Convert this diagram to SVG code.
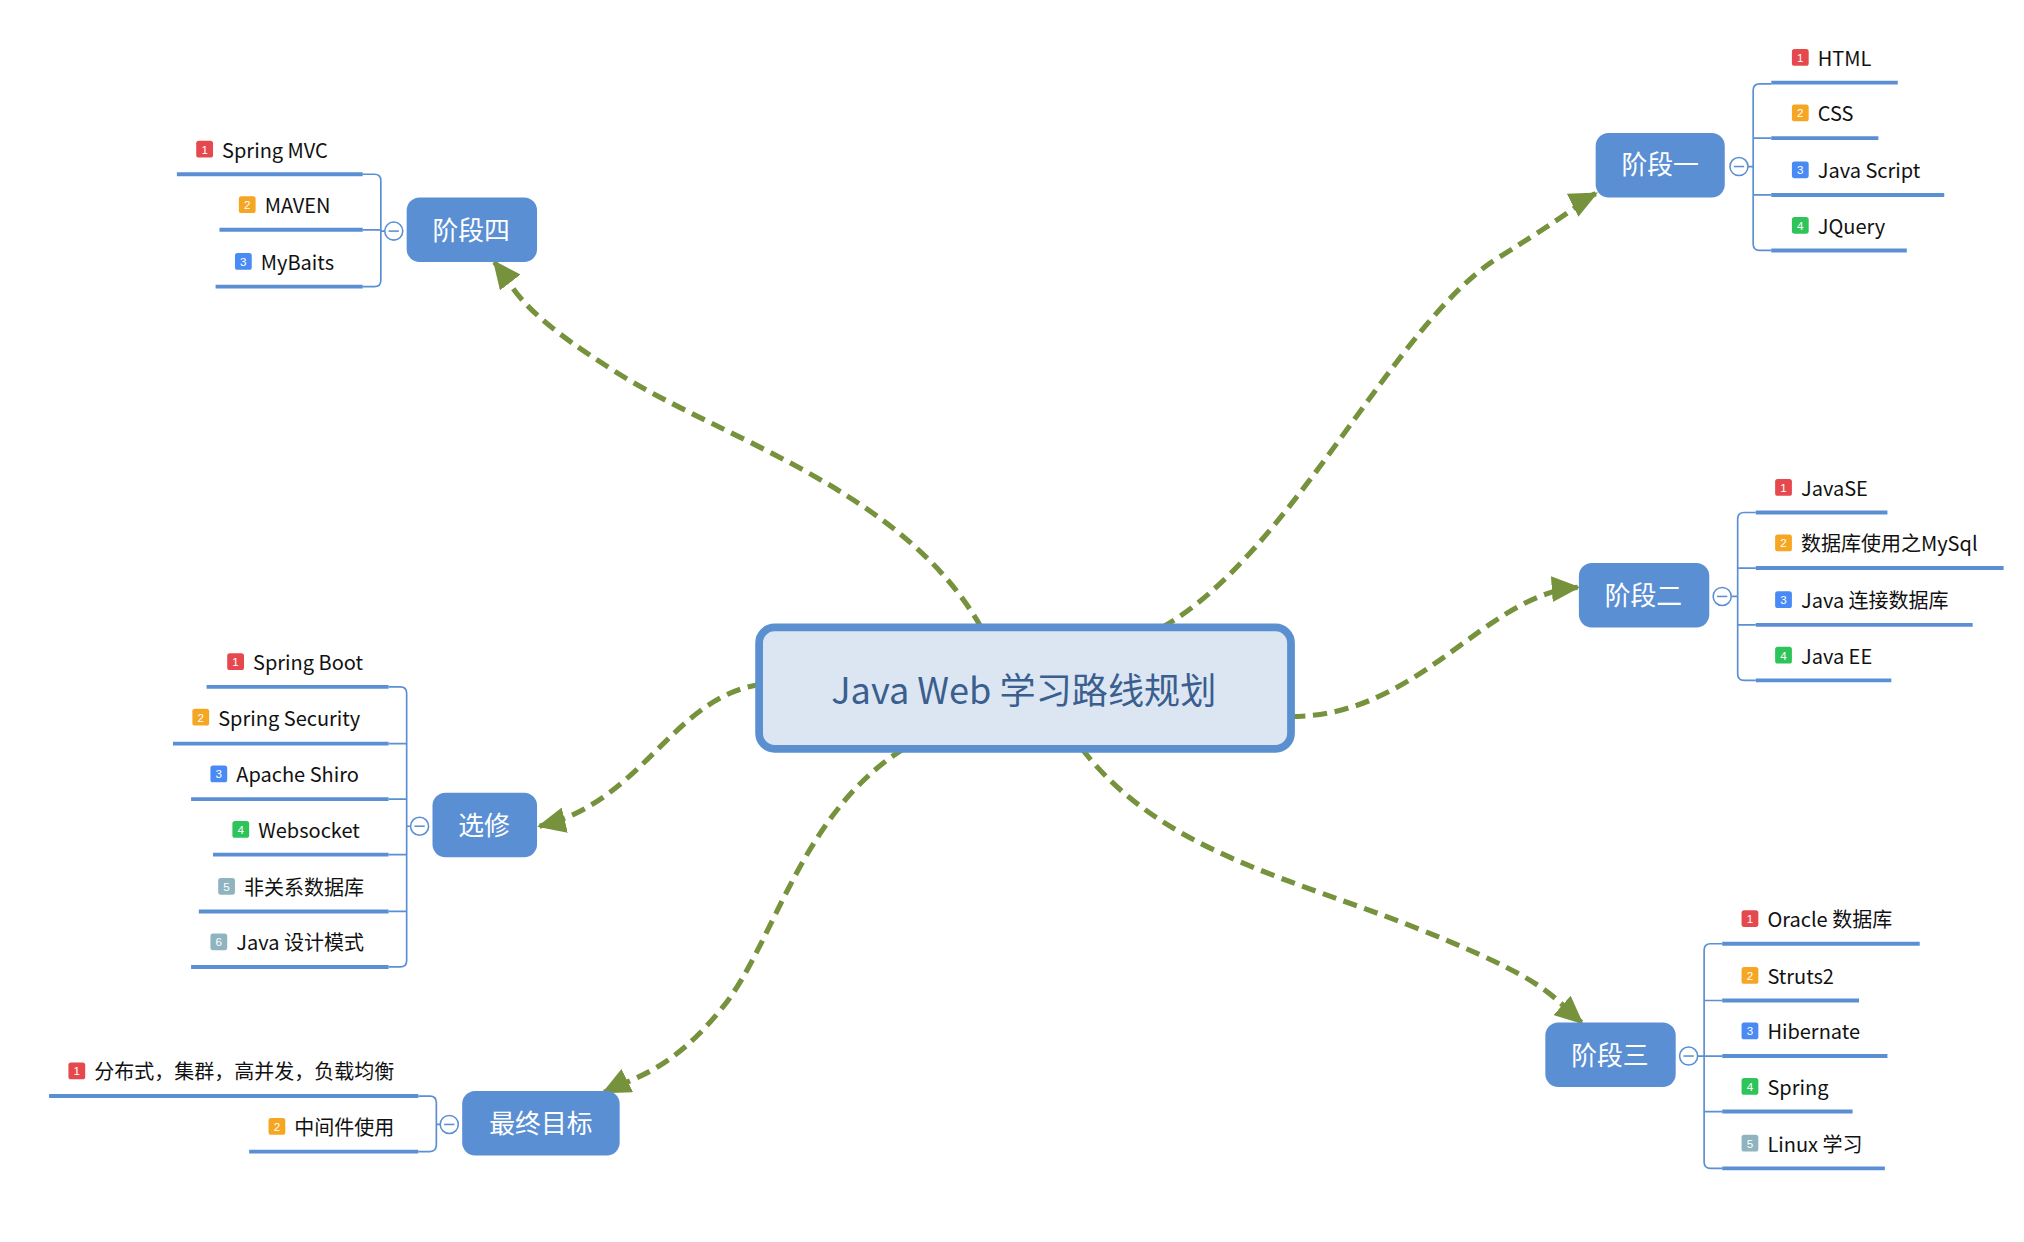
<svg xmlns="http://www.w3.org/2000/svg" width="2024" height="1242" viewBox="0 0 2024 1242">
<style>
text{font-family:"Noto Sans CJK SC","Liberation Sans",sans-serif}
.nr{fill:#5b8fd4}
.nt{fill:#fff;font-size:20px;text-anchor:middle}
.col{fill:#fff;stroke:#5b8fd4;stroke-width:1.2}
.colm{stroke:#5b8fd4;stroke-width:1.2}
.br{fill:none;stroke:#5b8fd4;stroke-width:1.3}
.ul{stroke:#5b8fd4;stroke-width:3}
.it{font-size:15.5px;fill:#111}
.bn{font-size:9px;fill:#fff;text-anchor:middle;font-family:"Liberation Sans",sans-serif}
.c{fill:none;stroke:#76923c;stroke-width:4;stroke-dasharray:11,6}
</style>
<defs>
<marker id="ah" markerWidth="24" markerHeight="20" refX="20" refY="10" orient="auto" markerUnits="userSpaceOnUse"><path d="M0,0 L22,10 L0,20 Z" fill="#76923c"/></marker>
</defs>
<rect width="2024" height="1242" fill="#fff"/>
<g transform="scale(1.291)">
<g id="connectors">
<path class="c" marker-end="url(#ah)" d="M900,486 C1000,430 1080,250 1160,200 S1220,158 1236,150"/>
<path class="c" marker-end="url(#ah)" d="M1000,555 C1100,555 1150,460 1222,455"/>
<path class="c" marker-end="url(#ah)" d="M838,580 C900,660 1000,680 1100,720 S1200,770 1225,792"/>
<path class="c" marker-end="url(#ah)" d="M760,486 C700,380 560,340 480,290 S400,225 383,203"/>
<path class="c" marker-end="url(#ah)" d="M590,530 C520,540 500,620 418,640"/>
<path class="c" marker-end="url(#ah)" d="M700,580 C620,630 600,730 560,780 S490,835 468,846"/>
</g>
<g id="root">
<rect x="588" y="486" width="412" height="94" rx="12" fill="#dce6f2" stroke="#5a8fd0" stroke-width="6"/>
<text x="793" y="545" font-size="28" fill="#3a5f8f" text-anchor="middle">Java Web 学习路线规划</text>
</g>

<g id="stage1">
<rect class="nr" x="1236" y="103" width="100" height="50" rx="10"/><text class="nt" x="1286" y="135">阶段一</text>
<path class="br" d="M1354,129 H1358 M1372,65 H1363 Q1358,65 1358,70 V189 Q1358,194 1363,194 H1372 M1358,107 H1372 M1358,151 H1372"/>
<circle class="col" cx="1347" cy="129" r="7"/><path class="colm" d="M1343,129 H1351"/>
<line class="ul" x1="1372" y1="64" x2="1470" y2="64"/><line class="ul" x1="1372" y1="107" x2="1455" y2="107"/>
<line class="ul" x1="1372" y1="151" x2="1506" y2="151"/><line class="ul" x1="1372" y1="194" x2="1477" y2="194"/>
<rect x="1388" y="38" width="13" height="13" rx="2" fill="#e5484d"/><text class="bn" x="1394.5" y="48">1</text><text class="it" x="1408" y="51">HTML</text>
<rect x="1388" y="81" width="13" height="13" rx="2" fill="#f5a623"/><text class="bn" x="1394.5" y="91">2</text><text class="it" x="1408" y="94">CSS</text>
<rect x="1388" y="125" width="13" height="13" rx="2" fill="#4a8af4"/><text class="bn" x="1394.5" y="135">3</text><text class="it" x="1408" y="138">Java Script</text>
<rect x="1388" y="168" width="13" height="13" rx="2" fill="#2ec45a"/><text class="bn" x="1394.5" y="178">4</text><text class="it" x="1408" y="181">JQuery</text>
</g>

<g id="stage2">
<rect class="nr" x="1223" y="436" width="101" height="50" rx="10"/><text class="nt" x="1273" y="469">阶段二</text>
<path class="br" d="M1341,462 H1346 M1360,397 H1351 Q1346,397 1346,402 V522 Q1346,527 1351,527 H1360 M1346,440 H1360 M1346,484 H1360"/>
<circle class="col" cx="1334" cy="462" r="7"/><path class="colm" d="M1330,462 H1338"/>
<line class="ul" x1="1360" y1="397" x2="1462" y2="397"/><line class="ul" x1="1360" y1="440" x2="1552" y2="440"/>
<line class="ul" x1="1360" y1="484" x2="1528" y2="484"/><line class="ul" x1="1360" y1="527" x2="1465" y2="527"/>
<rect x="1375" y="371" width="13" height="13" rx="2" fill="#e5484d"/><text class="bn" x="1381.5" y="381">1</text><text class="it" x="1395" y="384">JavaSE</text>
<rect x="1375" y="414" width="13" height="13" rx="2" fill="#f5a623"/><text class="bn" x="1381.5" y="424">2</text><text class="it" x="1395" y="427">数据库使用之MySql</text>
<rect x="1375" y="458" width="13" height="13" rx="2" fill="#4a8af4"/><text class="bn" x="1381.5" y="468">3</text><text class="it" x="1395" y="471">Java 连接数据库</text>
<rect x="1375" y="501" width="13" height="13" rx="2" fill="#2ec45a"/><text class="bn" x="1381.5" y="511">4</text><text class="it" x="1395" y="514">Java EE</text>
</g>

<g id="stage3">
<rect class="nr" x="1197" y="792" width="101" height="50" rx="10"/><text class="nt" x="1247" y="825">阶段三</text>
<path class="br" d="M1315,818 H1320 M1334,731 H1325 Q1320,731 1320,736 V900 Q1320,905 1325,905 H1334 M1320,775 H1334 M1320,818 H1334 M1320,861 H1334"/>
<circle class="col" cx="1308" cy="818" r="7"/><path class="colm" d="M1304,818 H1312"/>
<line class="ul" x1="1334" y1="731" x2="1487" y2="731"/><line class="ul" x1="1334" y1="775" x2="1440" y2="775"/>
<line class="ul" x1="1334" y1="818" x2="1462" y2="818"/><line class="ul" x1="1334" y1="861" x2="1435" y2="861"/>
<line class="ul" x1="1334" y1="905" x2="1460" y2="905"/>
<rect x="1349" y="705" width="13" height="13" rx="2" fill="#e5484d"/><text class="bn" x="1355.5" y="715">1</text><text class="it" x="1369" y="718">Oracle 数据库</text>
<rect x="1349" y="749" width="13" height="13" rx="2" fill="#f5a623"/><text class="bn" x="1355.5" y="759">2</text><text class="it" x="1369" y="762">Struts2</text>
<rect x="1349" y="792" width="13" height="13" rx="2" fill="#4a8af4"/><text class="bn" x="1355.5" y="802">3</text><text class="it" x="1369" y="805">Hibernate</text>
<rect x="1349" y="835" width="13" height="13" rx="2" fill="#2ec45a"/><text class="bn" x="1355.5" y="845">4</text><text class="it" x="1369" y="848">Spring</text>
<rect x="1349" y="879" width="13" height="13" rx="2" fill="#8fb4c0"/><text class="bn" x="1355.5" y="889">5</text><text class="it" x="1369" y="892">Linux 学习</text>
</g>

<g id="stage4">
<rect class="nr" x="315" y="153" width="101" height="50" rx="10"/><text class="nt" x="365" y="186">阶段四</text>
<path class="br" d="M298,179 H295 M281,135 H290 Q295,135 295,140 V217 Q295,222 290,222 H281 M295,178 H281"/>
<circle class="col" cx="305" cy="179" r="7"/><path class="colm" d="M301,179 H309"/>
<line class="ul" x1="137" y1="135" x2="281" y2="135"/><line class="ul" x1="170" y1="178" x2="281" y2="178"/>
<line class="ul" x1="167" y1="222" x2="281" y2="222"/>
<rect x="152" y="109" width="13" height="13" rx="2" fill="#e5484d"/><text class="bn" x="158.5" y="119">1</text><text class="it" x="172" y="122">Spring MVC</text>
<rect x="185" y="152" width="13" height="13" rx="2" fill="#f5a623"/><text class="bn" x="191.5" y="162">2</text><text class="it" x="205" y="165">MAVEN</text>
<rect x="182" y="196" width="13" height="13" rx="2" fill="#4a8af4"/><text class="bn" x="188.5" y="206">3</text><text class="it" x="202" y="209">MyBaits</text>
</g>

<g id="elective">
<rect class="nr" x="335" y="614" width="81" height="50" rx="10"/><text class="nt" x="375" y="647">选修</text>
<path class="br" d="M318,640 H315 M301,532 H310 Q315,532 315,537 V744 Q315,749 310,749 H301 M315,576 H301 M315,619 H301 M315,662 H301 M315,706 H301"/>
<circle class="col" cx="325" cy="640" r="7"/><path class="colm" d="M321,640 H329"/>
<line class="ul" x1="160" y1="532" x2="301" y2="532"/><line class="ul" x1="134" y1="576" x2="301" y2="576"/>
<line class="ul" x1="148" y1="619" x2="301" y2="619"/><line class="ul" x1="165" y1="662" x2="301" y2="662"/>
<line class="ul" x1="154" y1="706" x2="301" y2="706"/><line class="ul" x1="148" y1="749" x2="301" y2="749"/>
<rect x="176" y="506" width="13" height="13" rx="2" fill="#e5484d"/><text class="bn" x="182.5" y="516">1</text><text class="it" x="196" y="519">Spring Boot</text>
<rect x="149" y="549" width="13" height="13" rx="2" fill="#f5a623"/><text class="bn" x="155.5" y="559">2</text><text class="it" x="169" y="562">Spring Security</text>
<rect x="163" y="593" width="13" height="13" rx="2" fill="#4a8af4"/><text class="bn" x="169.5" y="603">3</text><text class="it" x="183" y="606">Apache Shiro</text>
<rect x="180" y="636" width="13" height="13" rx="2" fill="#2ec45a"/><text class="bn" x="186.5" y="646">4</text><text class="it" x="200" y="649">Websocket</text>
<rect x="169" y="680" width="13" height="13" rx="2" fill="#8fb4c0"/><text class="bn" x="175.5" y="690">5</text><text class="it" x="189" y="693">非关系数据库</text>
<rect x="163" y="723" width="13" height="13" rx="2" fill="#8fb4c0"/><text class="bn" x="169.5" y="733">6</text><text class="it" x="183" y="736">Java 设计模式</text>
</g>

<g id="goal">
<rect class="nr" x="358" y="845" width="122" height="50" rx="10"/><text class="nt" x="419" y="878">最终目标</text>
<path class="br" d="M341,871 H338 M324,849 H333 Q338,849 338,854 V887 Q338,892 333,892 H324"/>
<circle class="col" cx="348" cy="871" r="7"/><path class="colm" d="M344,871 H352"/>
<line class="ul" x1="38" y1="849" x2="324" y2="849"/><line class="ul" x1="193" y1="892" x2="324" y2="892"/>
<rect x="53" y="823" width="13" height="13" rx="2" fill="#e5484d"/><text class="bn" x="59.5" y="833">1</text><text class="it" x="73" y="836">分布式，集群，高并发，负载均衡</text>
<rect x="208" y="866" width="13" height="13" rx="2" fill="#f5a623"/><text class="bn" x="214.5" y="876">2</text><text class="it" x="228" y="879">中间件使用</text>
</g>
</g>
</svg>
